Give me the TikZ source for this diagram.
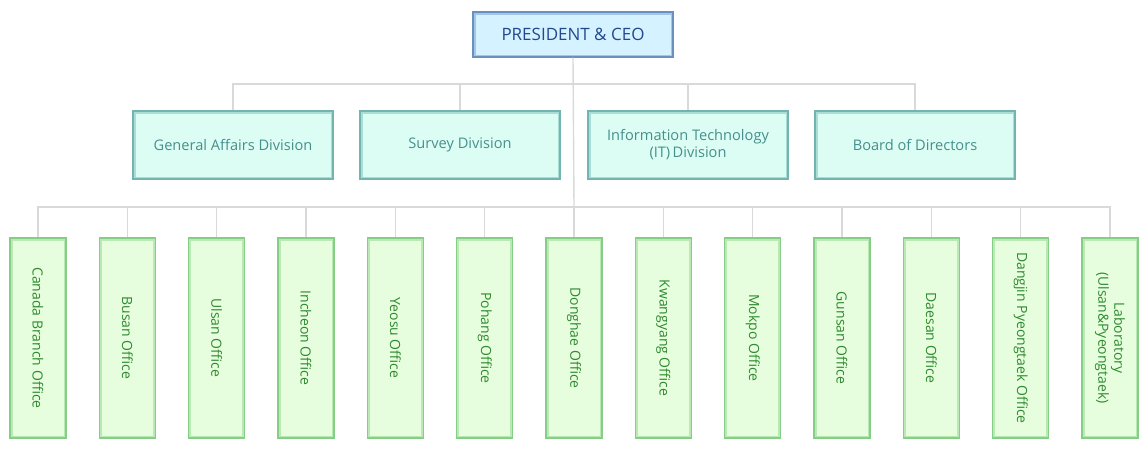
\documentclass[tikz,border=0pt]{standalone}
\usepackage{fontspec}
\setmainfont{Open Sans}
\definecolor{lineC}{HTML}{D9D9D9}
\definecolor{ceoFill}{HTML}{D4F2FF}
\definecolor{ceoBord}{HTML}{6A90BE}
\definecolor{ceoMid}{HTML}{A3C6E8}
\definecolor{ceoText}{HTML}{23488E}
\definecolor{divFill}{HTML}{DCFDF4}
\definecolor{divBord}{HTML}{72B5B0}
\definecolor{divMid}{HTML}{ABDDD7}
\definecolor{divText}{HTML}{468F8C}
\definecolor{offFill}{HTML}{E6FEDE}
\definecolor{offBord}{HTML}{84CE85}
\definecolor{offMid}{HTML}{BAE9B6}
\definecolor{offText}{HTML}{2F8A2F}
\tikzset{
  glowbox/.style n args={3}{fill=#1, draw=#2, line width=1.2pt,
    path picture={\draw[#3, line width=5pt] (path picture bounding box.south west) rectangle (path picture bounding box.north east);}},
  ceobox/.style={glowbox={ceoFill}{ceoBord}{ceoMid}, minimum width=200pt, minimum height=45pt,
    inner sep=0pt, text=ceoText, font=\fontsize{17}{20}\selectfont},
  divbox/.style={glowbox={divFill}{divBord}{divMid}, minimum width=200pt, minimum height=68pt,
    inner sep=0pt, text=divText, align=center, font=\fontsize{14.6}{17}\selectfont},
  offbox/.style={glowbox={offFill}{offBord}{offMid}, rotate=-90, minimum width=200pt, minimum height=56pt,
    inner sep=0pt, text=offText, align=center, font=\fontsize{14}{16}\selectfont},
  conn/.style={draw=lineC, line width=1.4pt}
}
\begin{document}
\begin{tikzpicture}[x=1pt,y=-1pt]
\useasboundingbox (0,0) rectangle (1148,463);
\node[ceobox] (ceo) at (573,34.5) {PRESIDENT \& CEO};
\coordinate (j1) at (574,84);
\coordinate (j2) at (574,207);
\node[divbox] (ga) at (233,145) {General Affairs Division};
\node[divbox] (sv) at (460,145) {Survey Division};
\node[divbox] (it) at (688,145) {Information Technology\\(IT)\,Division};
\node[divbox] (bd) at (915,145) {Board of Directors};
\node[offbox] (o1) at (38,338) {Canada Branch Office};
\node[offbox] (o2) at (127.3,338) {Busan Office};
\node[offbox] (o3) at (216.7,338) {Ulsan Office};
\node[offbox] (o4) at (306,338) {Incheon Office};
\node[offbox] (o5) at (395.3,338) {Yeosu Office};
\node[offbox] (o6) at (484.7,338) {Pohang Office};
\node[offbox] (o7) at (574,338) {Donghae Office};
\node[offbox] (o8) at (663.3,338) {Kwangyang Office};
\node[offbox] (o9) at (752.7,338) {Mokpo Office};
\node[offbox] (o10) at (842,338) {Gunsan Office};
\node[offbox] (o11) at (931.3,338) {Daesan Office};
\node[offbox] (o12) at (1020.7,338) {Dangjin Pyeongtaek Office};
\node[offbox] (o13) at (1110,338) {Laboratory\\(Ulsan\&Pyeongtaek)};
\draw[conn] (ceo.south) -- (j2);
\foreach \d in {ga,sv,it,bd} \draw[conn] (j1) -| (\d.north);
\foreach \o in {o1,o2,o3,o4,o5,o6,o7,o8,o9,o10,o11,o12,o13} \draw[conn] (j2) -| (\o.west);
\end{tikzpicture}
\end{document}
